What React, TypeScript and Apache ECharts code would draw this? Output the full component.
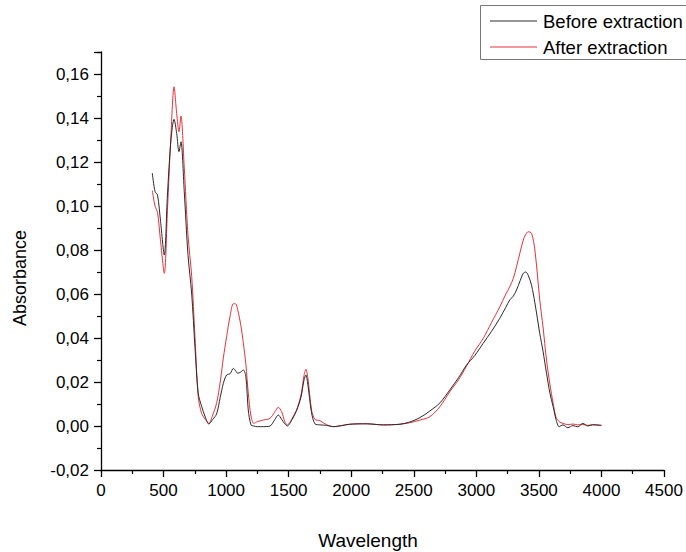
import React, { useEffect, useRef } from "react";
import * as echarts from "echarts";

const wavelengths = [
  410, 432, 452, 476, 506, 531, 559, 584, 605, 623, 639, 665, 695, 725, 751, 777, 804, 834, 862, 893,
  924, 953, 978, 1004, 1032, 1058, 1077, 1092, 1117, 1137, 1158, 1177, 1199, 1221, 1251, 1297, 1351, 1390, 1417, 1444,
  1469, 1489, 1528, 1563, 1598, 1623, 1638, 1653, 1683, 1710, 1750, 1803, 1856, 1989, 2123, 2256, 2389, 2468, 2549, 2628,
  2709, 2788, 2858, 2922, 2987, 3055, 3121, 3188, 3236, 3267, 3295, 3321, 3350, 3375, 3394, 3414, 3441, 3468, 3507, 3533,
  3561, 3588, 3614, 3637, 3662, 3692, 3732, 3772, 3811, 3851, 3891, 3930, 4000,
];

const beforeExtraction = [
  0.115, 0.1065, 0.105, 0.093, 0.0777, 0.105, 0.13, 0.1394, 0.133, 0.1247, 0.1292, 0.107, 0.078, 0.06, 0.036, 0.0149, 0.009, 0.004, 0.0009, 0.003,
  0.0055, 0.013, 0.0194, 0.0232, 0.0238, 0.0262, 0.025, 0.024, 0.0245, 0.0255, 0.0224, 0.0073, 0.0005, 0.0, -0.0003, -0.0003, 0.0, 0.003, 0.005, 0.003,
  0.001, 0.0, 0.003, 0.007, 0.013, 0.021, 0.0232, 0.019, 0.006, 0.001, 0.0005, 0.0003, -0.0003, 0.0008, 0.001, 0.0005, 0.0008, 0.0018, 0.0038, 0.0068,
  0.0105, 0.0164, 0.022, 0.0277, 0.032, 0.0376, 0.043, 0.049, 0.054, 0.0573, 0.059, 0.0618, 0.066, 0.0694, 0.07, 0.0686, 0.064, 0.056, 0.0421, 0.034,
  0.024, 0.015, 0.0088, 0.003, -0.0003, 0.0005, -0.0008, 0.0002, -0.0004, 0.0012, 0.0, 0.0006, 0.0002,
];

const afterExtraction = [
  0.107, 0.1, 0.097, 0.084, 0.0694, 0.098, 0.132, 0.1542, 0.142, 0.1338, 0.1409, 0.118, 0.087, 0.068, 0.0406, 0.0133, 0.0058, 0.003, 0.0012, 0.005,
  0.0103, 0.02, 0.031, 0.0406, 0.05, 0.0556, 0.0555, 0.053, 0.046, 0.038, 0.028, 0.015, 0.0045, 0.0012, 0.002, 0.0027, 0.0035, 0.0065, 0.0085, 0.0065,
  0.002, 0.0005, 0.0035, 0.0073, 0.014, 0.023, 0.0258, 0.022, 0.0073, 0.003, 0.0024, 0.0006, -0.0003, 0.0008, 0.001, 0.0005, 0.0008, 0.0015, 0.0027, 0.0042,
  0.0088, 0.0156, 0.021, 0.0273, 0.034, 0.0398, 0.047, 0.0542, 0.06, 0.0633, 0.067, 0.0724, 0.079, 0.0845, 0.087, 0.0883, 0.0876, 0.08, 0.0573, 0.045,
  0.03, 0.019, 0.0103, 0.004, 0.002, 0.0012, 0.0006, 0.0009, 0.0005, 0.0007, 0.0003, 0.0005, 0.0004,
];

const seriesNames = ["Before extraction", "After extraction"];
const seriesColors = ["#2a2a2a", "#e8303a"];
const xTitle = "Wavelength";
const yTitle = "Absorbance";

const FONT = "'Liberation Sans', Arial, Helvetica, sans-serif";

export default function App() {
  const ref = useRef<HTMLDivElement>(null);

  useEffect(() => {
    document.body.style.margin = "0";
    if (!ref.current) return;
    const chart = echarts.init(ref.current, null, { renderer: "svg" });

    const toPairs = (vals: number[]) => wavelengths.map((w, i) => [w, vals[i]]);

    const option: any = {
      animation: false,
      backgroundColor: "#ffffff",
      grid: { left: 101, right: 22, top: 52, bottom: 82, containLabel: false },
      xAxis: {
        type: "value",
        min: 0,
        max: 4500,
        interval: 500,
        axisLine: { show: true, onZero: false, lineStyle: { color: "#000", width: 1.3 } },
        axisTick: { show: true, inside: false, length: 7, lineStyle: { color: "#000", width: 1.3 } },
        minorTick: { show: true, splitNumber: 2, length: 4, lineStyle: { color: "#000", width: 1.2 } },
        splitLine: { show: false },
        axisLabel: {
          color: "#000",
          fontSize: 17,
          fontFamily: FONT,
          margin: 12,
          formatter: (v: number) => String(Math.round(v)),
        },
      },
      yAxis: {
        type: "value",
        min: -0.02,
        max: 0.17,
        interval: 0.02,
        axisLine: { show: true, onZero: false, lineStyle: { color: "#000", width: 1.3 } },
        axisTick: { show: true, inside: false, length: 7, lineStyle: { color: "#000", width: 1.3 } },
        minorTick: { show: true, splitNumber: 2, length: 4, lineStyle: { color: "#000", width: 1.2 } },
        splitLine: { show: false },
        axisLabel: {
          color: "#000",
          fontSize: 17,
          fontFamily: FONT,
          margin: 12,
          formatter: (v: number) => {
            const k = Math.round(v * 100);
            if (Math.abs(v * 100 - k) > 1e-6 || k % 2 !== 0) return "";
            return v.toFixed(2).replace(".", ",");
          },
        },
      },
      series: [
        {
          name: seriesNames[0],
          type: "line",
          data: toPairs(beforeExtraction),
          showSymbol: false,
          smooth: 0.3,
          lineStyle: { color: seriesColors[0], width: 1 },
          itemStyle: { color: seriesColors[0] },
          z: 3,
        },
        {
          name: seriesNames[1],
          type: "line",
          data: toPairs(afterExtraction),
          showSymbol: false,
          smooth: 0.3,
          lineStyle: { color: seriesColors[1], width: 1 },
          itemStyle: { color: seriesColors[1] },
          z: 2,
        },
      ],
      graphic: [
        {
          type: "text",
          x: 20,
          y: 278,
          rotation: Math.PI / 2,
          style: {
            text: yTitle,
            fontSize: 18,
            fontFamily: FONT,
            fill: "#000",
            align: "center",
            verticalAlign: "middle",
          },
        },
        {
          type: "text",
          x: 368,
          y: 540,
          style: {
            text: xTitle,
            fontSize: 19,
            fontFamily: FONT,
            fill: "#000",
            align: "center",
            verticalAlign: "middle",
          },
        },
        {
          type: "rect",
          shape: { x: 480.5, y: 5.5, width: 260, height: 54 },
          style: { fill: "#fff", stroke: "#777", lineWidth: 1 },
          z: 10,
        },
        {
          type: "line",
          shape: { x1: 490, y1: 21, x2: 537, y2: 21 },
          style: { stroke: seriesColors[0], lineWidth: 1 },
          z: 11,
        },
        {
          type: "line",
          shape: { x1: 490, y1: 47, x2: 537, y2: 47 },
          style: { stroke: seriesColors[1], lineWidth: 1 },
          z: 11,
        },
        {
          type: "text",
          x: 543,
          y: 21,
          style: {
            text: seriesNames[0],
            fontSize: 18.5,
            fontFamily: FONT,
            fill: "#000",
            align: "left",
            verticalAlign: "middle",
          },
          z: 11,
        },
        {
          type: "text",
          x: 543,
          y: 47,
          style: {
            text: seriesNames[1],
            fontSize: 18.5,
            fontFamily: FONT,
            fill: "#000",
            align: "left",
            verticalAlign: "middle",
          },
          z: 11,
        },
      ],
    };

    chart.setOption(option);
    return () => chart.dispose();
  }, []);

  return (
    <div
      ref={ref}
      style={{ position: "absolute", left: 0, top: 0, width: 686, height: 552, overflow: "hidden" }}
    />
  );
}
